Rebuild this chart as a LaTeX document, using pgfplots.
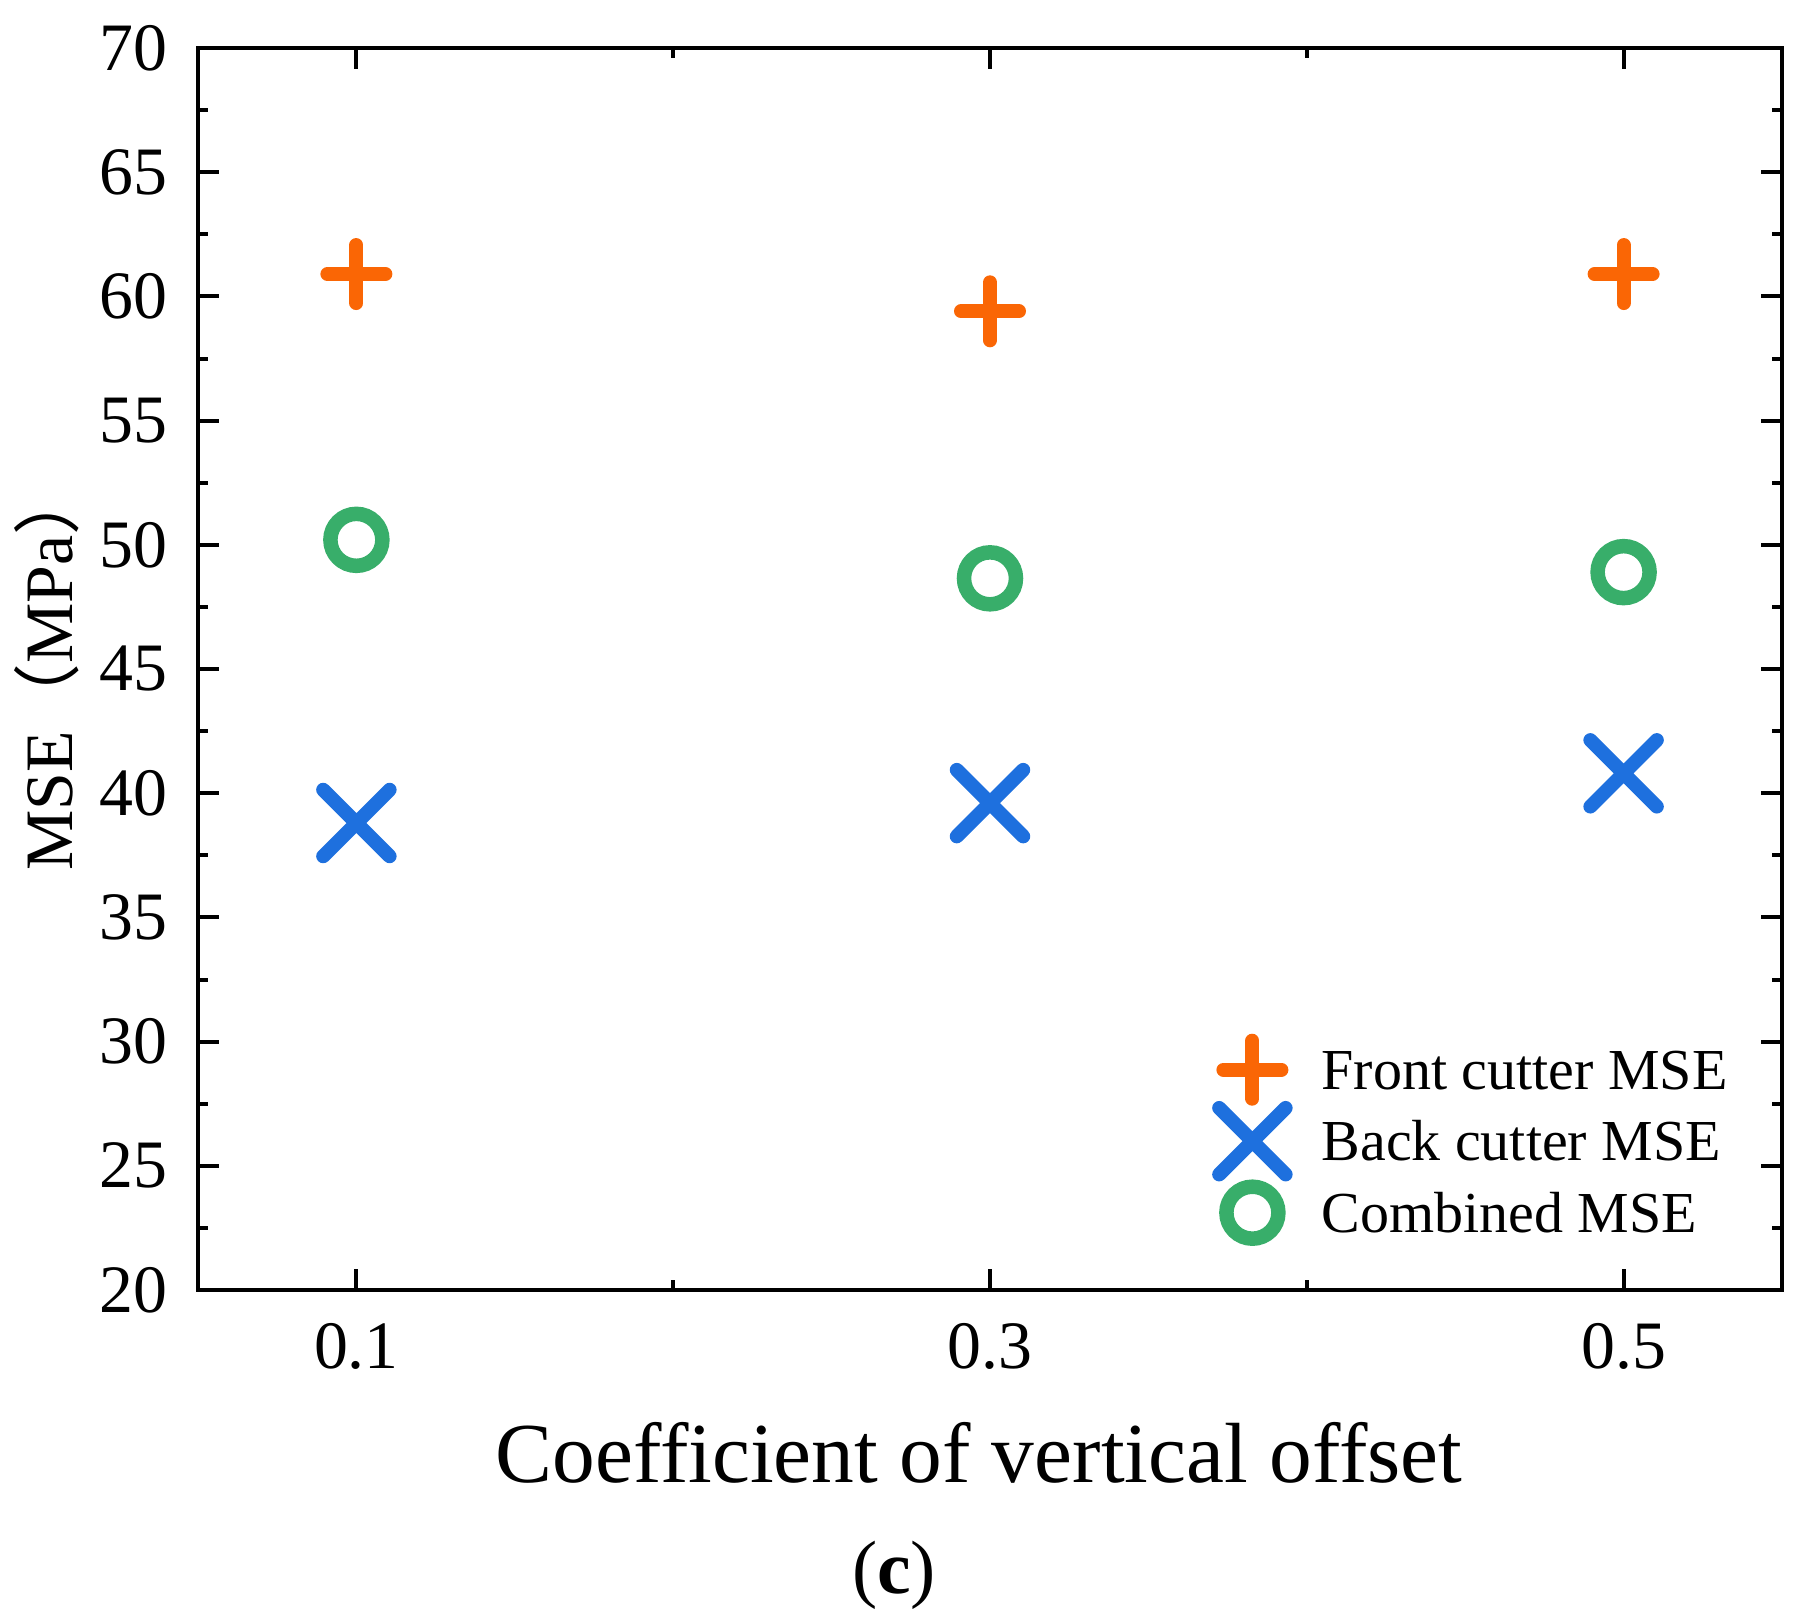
\documentclass[border=0pt]{standalone}
\usepackage{fontspec}
\setmainfont{Liberation Serif}
\newfontfamily\cjk{Noto Sans CJK SC}
\usepackage{pgfplots}
\pgfplotsset{compat=1.18}

\definecolor{frontC}{RGB}{250,102,5}
\definecolor{backC}{RGB}{30,112,222}
\definecolor{combC}{RGB}{56,174,106}

\begin{document}
\begin{tikzpicture}
% picture frame: 1 px of the reference = 0.1 mm
\path[use as bounding box] (-19.8mm,-33.2mm) rectangle (160.8mm,129.0mm);
\begin{axis}[
    at={(0,0)}, anchor=south west,
    scale only axis, width=158.4mm, height=124.2mm,
    clip mode=individual,
    xmin=0.05, xmax=0.55, ymin=20, ymax=70,
    xtick={0.1,0.3,0.5}, xticklabels={0.1,0.3,0.5},
    minor xtick={0.2,0.4},
    ytick={20,25,...,70},
    minor ytick={22.5,27.5,...,67.5},
    tick align=inside,
    major tick length=2.1mm, minor tick length=1mm,
    every tick/.style={black, line width=0.4mm},
    axis line style={line width=0.4mm},
    /pgf/number format/assume math mode=true,
    tick label style={font=\fontsize{19.3}{23}\selectfont},
    yticklabel style={inner sep=0pt, anchor=east, xshift=-3mm},
    xticklabel style={inner sep=0pt, anchor=north, yshift=-3.3mm},
    xlabel={Coefficient of vertical offset},
    xlabel style={at={(axis description cs:0.493,-0.1554)}, anchor=base,
        inner sep=0pt, font=\fontsize{24.3}{28}\selectfont},
    ylabel={MSE{\cjk （}MPa{\cjk ）}},
    ylabel style={at={(axis description cs:-0.0795,0.5)}, anchor=base,
        inner sep=0pt, font=\fontsize{19.3}{23}\selectfont},
    legend cell align=left,
    legend image code/.code={
        \path (-3mm,0mm) (3mm,0mm);
        \draw[#1, overlay] plot coordinates {(0mm,0mm)};
    },
    legend style={draw=none, fill=none, inner sep=0pt,
        at={(axis description cs:0,0)}, anchor=north west,
        xshift=102.3mm, yshift=24.05mm,
        row sep=3.25mm, column sep=3.85mm,
        nodes={inner sep=0pt, text height=3.9mm, text depth=0mm,
            font=\fontsize{16.5}{20}\selectfont}},
]

% front cutter
\addplot[frontC, only marks, mark=+, mark size=2.9mm,
    mark options={line width=1.4mm, line cap=round}]
    coordinates {(0.1,60.9) (0.3,59.4) (0.5,60.9)};
\addlegendentry{Front cutter MSE}

% back cutter
\addplot[backC, only marks, mark=x, mark size=4.7mm,
    mark options={line width=1.4mm, line cap=round}]
    coordinates {(0.1,38.8) (0.3,39.6) (0.5,40.8)};
\addlegendentry{Back cutter MSE}

% combined
\addplot[combC, only marks, mark=o, mark size=2.6mm,
    mark options={line width=1.45mm}]
    coordinates {(0.1,50.2) (0.3,48.65) (0.5,48.9)};
\addlegendentry{Combined MSE}

\node[anchor=base, inner sep=0pt, font=\fontsize{21.5}{25}\selectfont]
    at (axis description cs:0.4394,-0.244) {(\textbf{c})};
\end{axis}
\end{tikzpicture}
\end{document}
